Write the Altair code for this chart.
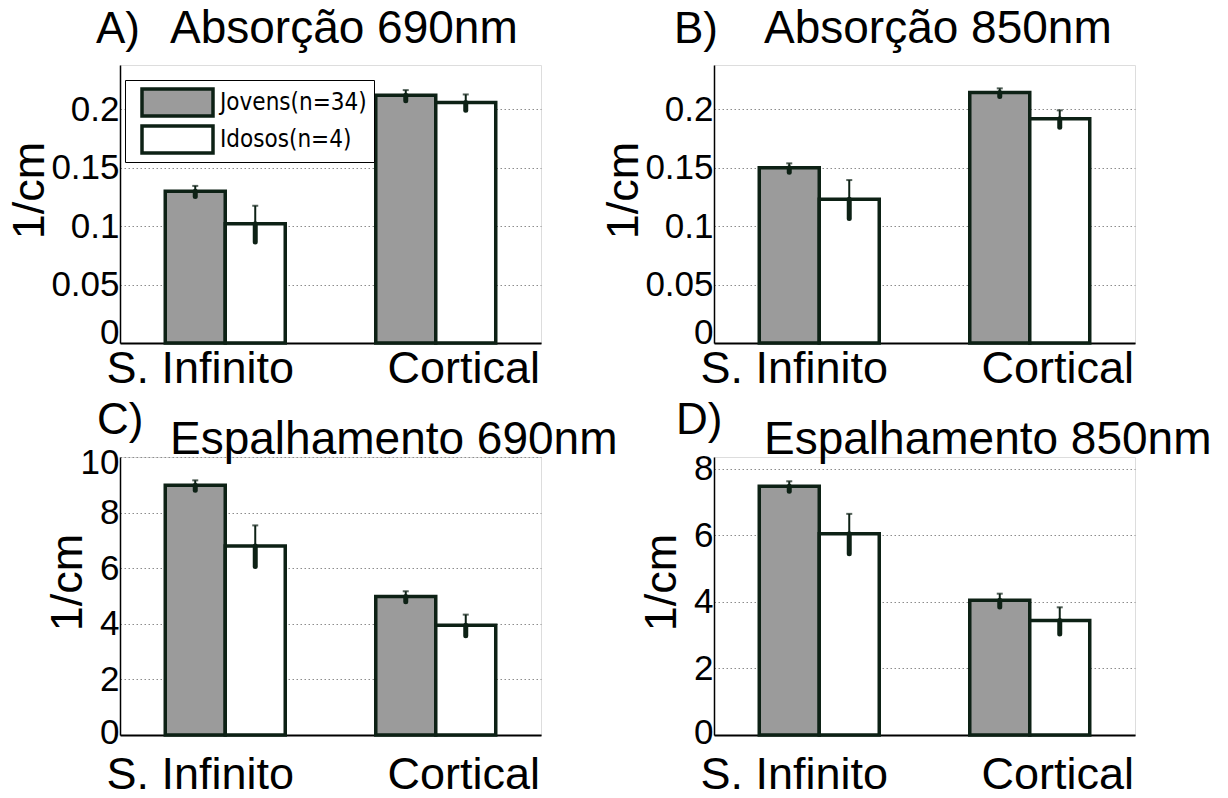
import altair as alt
import pandas as pd

categories = ["S. Infinito", "Cortical"]
groups = ["Jovens(n=34)", "Idosos(n=4)"]
letters = ["A)", "B)", "C)", "D)"]
titles = ["Absorção 690nm", "Absorção 850nm", "Espalhamento 690nm", "Espalhamento 850nm"]

jovens_mean = [[0.130, 0.212], [0.150, 0.2145], [8.98, 4.98], [7.48, 4.05]]
jovens_err = [[0.0045, 0.0045], [0.0038, 0.0035], [0.18, 0.19], [0.15, 0.20]]
idosos_mean = [[0.102, 0.206], [0.123, 0.192], [6.80, 3.95], [6.05, 3.44]]
idosos_err = [[0.0155, 0.0068], [0.0165, 0.0072], [0.74, 0.38], [0.60, 0.40]]

y_domains = [[0, 0.238], [0, 0.238], [0, 10], [0, 8.36]]
y_ticks = [[0, 0.05, 0.1, 0.15, 0.2], [0, 0.05, 0.1, 0.15, 0.2],
           [0, 2, 4, 6, 8, 10], [0, 2, 4, 6, 8]]
y_formats = ["~g", "~g", "d", "d"]

FONT = "Liberation Sans"
EDGE = "#0d2115"
GRAY = "#9b9b9b"

W, H = 421, 278

# per-panel layout tweaks (pixels relative to plot area)
letter_pos = [(-24, -22), (-40, -22), (-23, -23), (-38, -23)]
title_y = [-22, -22, -3, -3]
ytitle_x = [-77, -77, -39, -39]
xlabel_pad = [3, 3, 17, 17]
ylabel_shift = [
    "datum.value == 0 ? -11 : 0",
    "datum.value == 0 ? -11 : 0",
    "datum.value == 0 ? -3 : (datum.value == 10 ? 5 : 0)",
    "datum.value == 0 ? -3 : 0",
]


def panel(i):
    rows = []
    for c, cat in enumerate(categories):
        for g, (means, errs) in enumerate([(jovens_mean, jovens_err), (idosos_mean, idosos_err)]):
            m = means[i][c]
            e = errs[i][c]
            rows.append({"cat": cat, "grp": groups[g], "mean": m, "lo": m - e, "hi": m + e})
    df = pd.DataFrame(rows)

    x_enc = alt.X(
        "cat:N",
        sort=categories,
        scale=alt.Scale(domain=categories, paddingInner=0.43, paddingOuter=0.215),
        axis=alt.Axis(
            title=None, ticks=False, tickSize=0, labelAngle=0,
            labelPadding=xlabel_pad[i], labelFont=FONT, labelFontSize=45,
            labelColor="black", labelLimit=400, labelBaseline="top",
            labelOffset={"expr": "datum.value == 'S. Infinito' ? -25 : 28"},
            domainColor="black", domainWidth=2, grid=False,
        ),
    )
    xo_enc = alt.XOffset("grp:N", sort=groups, scale=alt.Scale(domain=groups))
    y_scale = alt.Scale(domain=y_domains[i], nice=False, zero=True)
    y_axis = alt.Axis(
        values=y_ticks[i], format=y_formats[i], grid=True, gridDash=[1.5, 2.5],
        gridColor="#8c8c8c", gridWidth=1, ticks=False, tickSize=0,
        labelPadding=1, labelFont=FONT, labelFontSize=35, labelColor="black",
        labelFlush=False, labelOffset={"expr": ylabel_shift[i]},
        domainColor="black", domainWidth=1.5,
        title="1/cm", titleFont=FONT, titleFontSize=45, titleFontWeight="normal",
        titleColor="black", titleX=ytitle_x[i], titleY=125, titleAngle=270,
        titleAlign="center", titleBaseline="alphabetic",
    )

    if i == 0:
        legend = alt.Legend(
            title=None, orient="none", legendX=5, legendY=15,
            symbolType="M-1,-0.38H1V0.38H-1Z", symbolSize=5041,
            symbolStrokeColor=EDGE, symbolStrokeWidth=3.5, symbolOffset=8,
            clipHeight=31, rowPadding=6, padding=7, labelOffset=5,
            labelFont="DejaVu Sans Condensed, Liberation Sans", labelFontSize=24,
            labelColor="black", labelLimit=400, strokeColor="black", fillColor="white",
        )
    else:
        legend = None

    base = alt.Chart(df)
    bars = base.mark_bar(stroke=EDGE, strokeWidth=3.5).encode(
        x=x_enc,
        xOffset=xo_enc,
        y=alt.Y("mean:Q", scale=y_scale, axis=y_axis),
        fill=alt.Fill("grp:N", sort=groups,
                      scale=alt.Scale(domain=groups, range=[GRAY, "white"]),
                      legend=legend),
    )
    upper = base.mark_rule(color=EDGE, strokeWidth=2).encode(
        x=alt.X("cat:N", sort=categories), xOffset=xo_enc,
        y=alt.Y("mean:Q"), y2="hi:Q",
    )
    lower = base.mark_rule(color=EDGE, strokeWidth=5, strokeCap="round").encode(
        x=alt.X("cat:N", sort=categories), xOffset=xo_enc,
        y=alt.Y("lo:Q"), y2="mean:Q",
    )
    cap = base.mark_tick(color=EDGE, size=6, thickness=2).encode(
        x=alt.X("cat:N", sort=categories), xOffset=xo_enc,
        y=alt.Y("hi:Q"),
    )
    title_txt = alt.Chart(pd.DataFrame({"t": [titles[i]]})).mark_text(
        align="left", baseline="alphabetic", font=FONT, fontSize=46, color="black"
    ).encode(x=alt.value(50), y=alt.value(title_y[i]), text="t:N")
    letter_txt = alt.Chart(pd.DataFrame({"t": [letters[i]]})).mark_text(
        align="left", baseline="alphabetic", font=FONT, fontSize=44, color="black"
    ).encode(x=alt.value(letter_pos[i][0]), y=alt.value(letter_pos[i][1]), text="t:N")

    return alt.layer(bars, upper, lower, cap, title_txt, letter_txt).properties(
        width=W, height=H
    )


chart = alt.concat(
    panel(0), panel(1), panel(2), panel(3), columns=2,
    spacing={"row": 114, "column": 173},
).properties(
    bounds="flush",
    padding={"left": 6, "top": 5, "right": 5, "bottom": 0},
).resolve_scale(
    x="independent", y="independent", fill="independent"
).resolve_legend(
    fill="independent"
).configure_view(
    strokeWidth=0
).configure(background="white")

chart.save("out.html", embed_options={"renderer": "svg", "actions": False})
